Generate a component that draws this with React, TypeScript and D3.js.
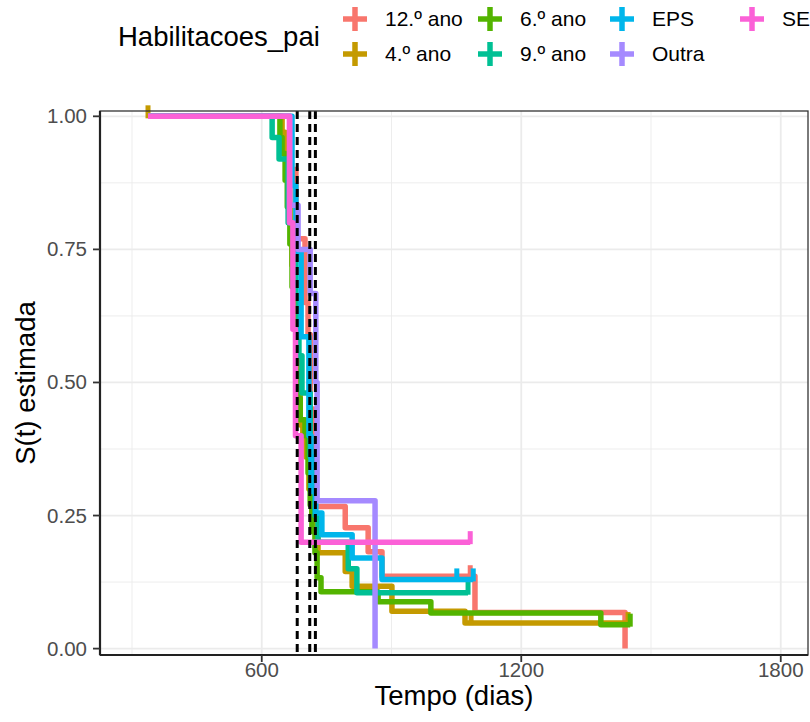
import React from 'react';
import * as d3 from 'd3';

// Kaplan-Meier curves by father's education

const groups = ['12.º ano', '4.º ano', '6.º ano', '9.º ano', 'EPS', 'Outra', 'SE'];
const colors = ['#F8766D', '#C49A00', '#53B400', '#00C094', '#00B6EB', '#A58AFF', '#FB61D7'];

// [time (days), S(t) after that time]
const surv12 = [[337, 1], [665, 0.9], [679, 0.77], [700, 0.65], [707, 0.59], [712, 0.45], [719, 0.267], [793, 0.227], [846, 0.182], [878, 0.136], [1093, 0.068], [1440, 0]];
const surv4 = [[337, 1], [647, 0.97], [654, 0.93], [661, 0.87], [665, 0.8], [670, 0.72], [675, 0.64], [679, 0.56], [684, 0.48], [689, 0.42], [695, 0.396], [702, 0.36], [709, 0.3], [716, 0.25], [723, 0.22], [730, 0.18], [793, 0.145], [809, 0.117], [901, 0.07], [1070, 0.048], [1447, 0.048]];
const surv6 = [[337, 1], [642, 0.96], [647, 0.93], [654, 0.88], [659, 0.83], [665, 0.76], [670, 0.68], [675, 0.6], [679, 0.52], [684, 0.47], [689, 0.43], [700, 0.4], [707, 0.33], [712, 0.27], [716, 0.22], [723, 0.18], [728, 0.133], [737, 0.107], [869, 0.088], [991, 0.067], [1384, 0.045], [1452, 0.045]];
const surv9 = [[337, 1], [624, 0.96], [640, 0.92], [661, 0.8], [679, 0.66], [686, 0.55], [693, 0.48], [712, 0.36], [723, 0.25], [730, 0.2], [800, 0.15], [820, 0.105], [1077, 0.105]];
const survEPS = [[337, 1], [670, 0.87], [679, 0.745], [691, 0.586], [709, 0.4], [714, 0.295], [725, 0.255], [739, 0.214], [809, 0.17], [878, 0.13], [1089, 0.13]];
const survOutra = [[337, 1], [665, 0.833], [684, 0.75], [712, 0.667], [725, 0.5], [728, 0.278], [862, 0]];
const survSE = [[337, 1], [664, 0.8], [672, 0.6], [678, 0.4], [691, 0.2], [1082, 0.2]];

// censoring times
const cens12 = [1082];
const cens4 = [337, 1084, 1447];
const cens6 = [1452];
const cens9 = [1077];
const censEPS = [1051, 1089];
const censOutra: number[] = [];
const censSE = [1082];

const medianLines = [682, 711, 724];

const xTicks = [600, 1200, 1800];
const xMinor = [300, 900, 1500];
const yTicks = [0, 0.25, 0.5, 0.75, 1];
const yMinor = [0.125, 0.375, 0.625, 0.875];

const survAll = [surv12, surv4, surv6, surv9, survEPS, survOutra, survSE];
const censAll = [cens12, cens4, cens6, cens9, censEPS, censOutra, censSE];

const width = 810;
const height = 722;
const panel = { left: 100, right: 808, top: 111, bottom: 655 };

const x = d3.scaleLinear().domain([226, 1863]).range([panel.left, panel.right]);
const y = d3.scaleLinear().domain([-0.012, 1.01]).range([panel.bottom, panel.top]);

const stepLine = d3.line<number[]>()
  .x(d => x(d[0]))
  .y(d => y(d[1]))
  .curve(d3.curveStepAfter);

const survAt = (curve: number[][], t: number) => {
  let s = 1;
  curve.forEach(d => { if (d[0] <= t) s = d[1]; });
  return s;
};

const font = '"Liberation Sans", Arial, sans-serif';

// legend layout, filled by column
const legendCols = [355, 490, 622, 752];
const legendRows = [19, 54];

const App = () => {
  return (
    <svg width={width} height={height} viewBox={`0 0 ${width} ${height}`}
      style={{ position: 'absolute', left: 0, top: 0, background: '#fff' }}>
      <rect x={0} y={0} width={width} height={height} fill="#fff" />

      {/* grid */}
      <g>
        {xMinor.map(t => (
          <line key={'xm' + t} x1={x(t)} x2={x(t)} y1={panel.top} y2={panel.bottom} stroke="#EBEBEB" strokeWidth={0.9} />
        ))}
        {yMinor.map(t => (
          <line key={'ym' + t} x1={panel.left} x2={panel.right} y1={y(t)} y2={y(t)} stroke="#EBEBEB" strokeWidth={0.9} />
        ))}
        {xTicks.map(t => (
          <line key={'xg' + t} x1={x(t)} x2={x(t)} y1={panel.top} y2={panel.bottom} stroke="#EBEBEB" strokeWidth={1.8} />
        ))}
        {yTicks.map(t => (
          <line key={'yg' + t} x1={panel.left} x2={panel.right} y1={y(t)} y2={y(t)} stroke="#EBEBEB" strokeWidth={1.8} />
        ))}
      </g>

      {/* curves */}
      {survAll.map((curve, i) => (
        <g key={groups[i]}>
          <path d={stepLine(curve) || ''} fill="none" stroke={colors[i]} strokeWidth={5.5} strokeLinejoin="round" />
          {censAll[i].map(t => (
            <line key={t} x1={x(t)} x2={x(t)} y1={y(survAt(curve, t)) - 11} y2={y(survAt(curve, t)) + 2}
              stroke={colors[i]} strokeWidth={5} />
          ))}
        </g>
      ))}

      {/* vertical dashed lines */}
      {medianLines.map(t => (
        <line key={'v' + t} x1={x(t)} x2={x(t)} y1={panel.top} y2={panel.bottom}
          stroke="#000" strokeWidth={3} strokeDasharray="8,5" />
      ))}

      {/* panel border and axes */}
      <rect x={panel.left} y={panel.top} width={panel.right - panel.left} height={panel.bottom - panel.top}
        fill="none" stroke="#333" strokeWidth={1.3} />
      <line x1={panel.left} x2={panel.right} y1={panel.bottom} y2={panel.bottom} stroke="#222" strokeWidth={2.2} />
      <line x1={panel.left} x2={panel.left} y1={panel.top} y2={panel.bottom} stroke="#222" strokeWidth={2.2} />

      {xTicks.map(t => (
        <g key={'xt' + t}>
          <line x1={x(t)} x2={x(t)} y1={panel.bottom} y2={panel.bottom + 7} stroke="#333" strokeWidth={1.8} />
          <text x={x(t)} y={677} textAnchor="middle" fontFamily={font} fontSize={20.5} fill="#4D4D4D">{t}</text>
        </g>
      ))}
      {yTicks.map(t => (
        <g key={'yt' + t}>
          <line x1={panel.left - 7} x2={panel.left} y1={y(t)} y2={y(t)} stroke="#333" strokeWidth={1.8} />
          <text x={87} y={y(t) + 7} textAnchor="end" fontFamily={font} fontSize={20.5} fill="#4D4D4D">{d3.format('.2f')(t)}</text>
        </g>
      ))}

      <text x={(panel.left + panel.right) / 2} y={705} textAnchor="middle" fontFamily={font} fontSize={27.5} fill="#000">Tempo (dias)</text>
      <text transform={`translate(35, ${(panel.top + panel.bottom) / 2}) rotate(-90)`} textAnchor="middle"
        fontFamily={font} fontSize={27.5} fill="#000">S(t) estimada</text>

      {/* legend */}
      <text x={118} y={46} fontFamily={font} fontSize={27.5} fill="#000">Habilitacoes_pai</text>
      {groups.map((g, i) => {
        const cx = legendCols[Math.floor(i / 2)];
        const cy = legendRows[i % 2];
        return (
          <g key={'lg' + g}>
            <line x1={cx - 12} x2={cx + 12} y1={cy} y2={cy} stroke={colors[i]} strokeWidth={5.5} />
            <line x1={cx} x2={cx} y1={cy - 12} y2={cy + 12} stroke={colors[i]} strokeWidth={5.5} />
            <text x={cx + 30} y={cy + 7} fontFamily={font} fontSize={21} fill="#000">{g}</text>
          </g>
        );
      })}
    </svg>
  );
};

export default App;
